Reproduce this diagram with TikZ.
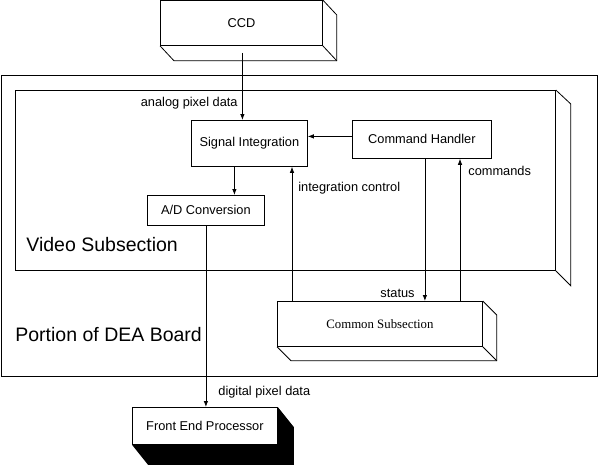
\documentclass[tikz,border=0pt]{standalone}
\usepackage{fontspec}
\setmainfont{Liberation Sans}
\newfontfamily\timesfont{Liberation Serif}
\usetikzlibrary{calc, arrows.meta}

\tikzset{
    block/.style={anchor=north west, rectangle, draw=black, inner sep=0pt, text centered, font=\fontsize{12.8}{15}\selectfont},
    lbl/.style={inner sep=0pt, font=\fontsize{12.8}{15}\selectfont},
    biglbl/.style={anchor=west, inner sep=0pt, font=\fontsize{19.5}{23}\selectfont},
    flow/.style={->, >={Latex[length=6pt,width=4.5pt]}},
}

\begin{document}
\begin{tikzpicture}[x=1pt, y=-1pt, line width=0.8pt]
        \useasboundingbox (0,0) rectangle (599,467);

        %% Outer frames
        \node (board) [anchor=north west, draw=black, inner sep=0pt, minimum width=596pt, minimum height=301pt] at (0.5,75) {};
        \node (video) [anchor=north west, draw=black, inner sep=0pt, minimum width=540pt, minimum height=180pt] at (15,90) {};
        \draw (video.north east) -- ++(15,14) -- ($(video.south east)+(15,15)$) -- (video.south east);

        %% Blocks
        \node (ccd) [block, minimum width=162pt, minimum height=45pt] at (160,0) {CCD};
        \node (sigint) [block, minimum width=116pt, minimum height=46pt] at (191,120) {Signal Integration};
        \node (cmd) [block, minimum width=139pt, minimum height=38pt] at (352,120) {Command Handler};
        \node (adc) [block, minimum width=117pt, minimum height=30pt] at (147,195) {A/D Conversion};
        \node (common) [block, minimum width=205pt, minimum height=45pt] at (277,301) {\timesfont Common Subsection};
        \node (fep) [block, minimum width=145pt, minimum height=37pt] at (132,407) {Front End Processor};

        %% Depth of the boxes
        \draw (ccd.north east) -- ++(14,15) -- ($(ccd.south east)+(14,15)$) -- ($(ccd.south west)+(14,15)$) -- (ccd.south west);
        \draw (ccd.south east) -- ++(14,15);
        \draw (common.north east) -- ++(14,14) -- ($(common.south east)+(14,14)$) -- ($(common.south west)+(14,14)$) -- (common.south west);
        \draw (common.south east) -- ++(14,14);
        \fill (fep.north east) -- ++(16,20) -- ($(fep.south east)+(16,20)$) -- ($(fep.south west)+(16,20)$) -- (fep.south west) -- (fep.south east) -- cycle;

        %% Section titles
        \node (videolbl) [biglbl] at (26,245) {Video Subsection};
        \node (boardlbl) [biglbl] at (15,335) {Portion of DEA Board};

        %% Arrows
        \coordinate (ccdout) at ($(ccd.south)+(1,7)$);
        \coordinate (toadc) at ($(sigint.south)+(-15,0)$);
        \coordinate (tosig) at ($(cmd.west)+(0,-3)$);
        \coordinate (intctl) at ($(common.north west)+(15,0)$);
        \coordinate (stat) at ($(cmd.south)+(3,0)$);
        \coordinate (cmds) at ($(common.north west)+(183,0)$);
        \draw [flow] (ccdout) -- (ccdout |- sigint.north);
        \draw [flow] (toadc) -- (toadc |- adc.north);
        \draw [flow] (tosig) -- (tosig -| sigint.east);
        \draw [flow] (intctl) -- (intctl |- sigint.south);
        \draw [flow] (stat) -- (stat |- common.north);
        \draw [flow] (cmds) -- (cmds |- cmd.south);
        \draw [flow] (adc.south) -- (adc.south |- fep.north);

        %% Labels
        \node (analoglbl) [lbl, anchor=base east] at (238,106) {analog pixel data};
        \node (intlbl) [lbl, anchor=base west] at (298,191) {integration control};
        \node (cmdlbl) [lbl, anchor=base west] at (468,175) {commands};
        \node (statuslbl) [lbl, anchor=base east] at (415,297) {status};
        \node (digitallbl) [lbl, anchor=base west] at (218,395) {digital pixel data};

\end{tikzpicture}
\end{document}
